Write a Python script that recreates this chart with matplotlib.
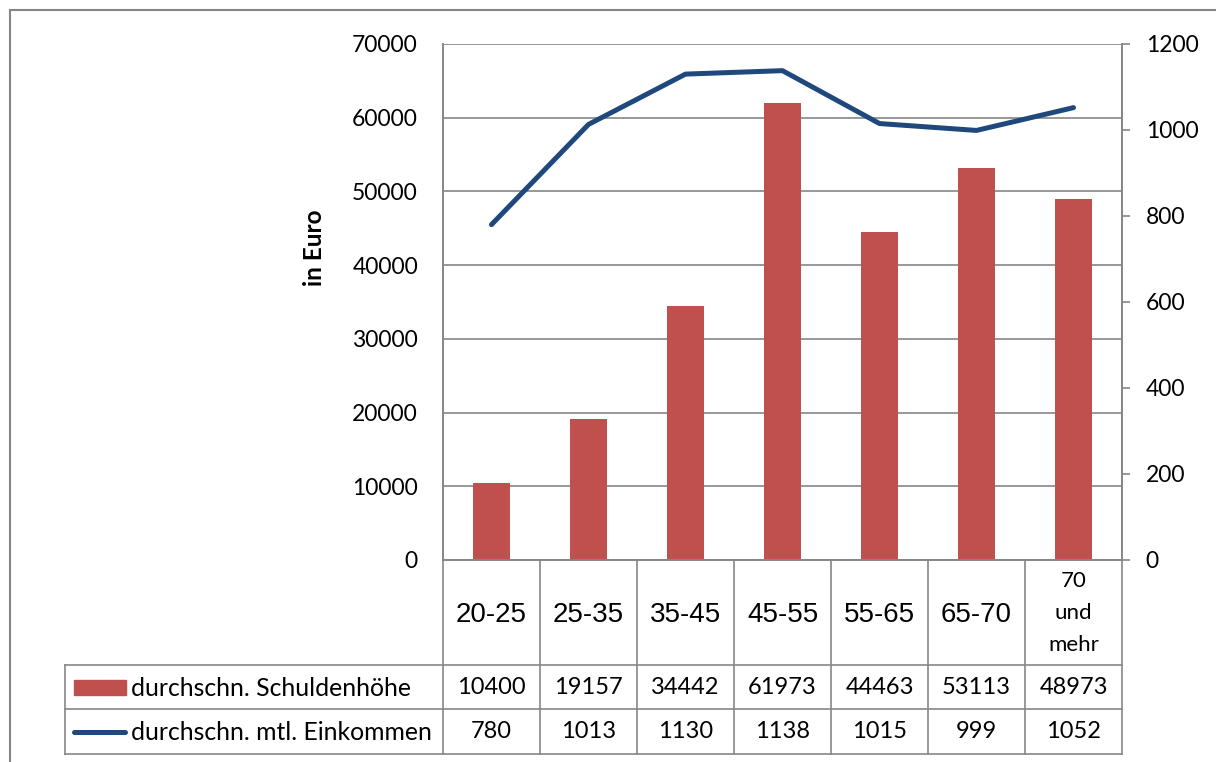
import matplotlib
matplotlib.use("Agg")
import matplotlib.pyplot as plt
import matplotlib.transforms as mtransforms
from matplotlib.lines import Line2D
from matplotlib.patches import Rectangle

# Altersgruppen und Werte
kategorien = ["20-25", "25-35", "35-45", "45-55", "55-65", "65-70", "70\nund\nmehr"]
schulden = [10400, 19157, 34442, 61973, 44463, 53113, 48973]
einkommen = [780, 1013, 1130, 1138, 1015, 999, 1052]
reihen = ["durchschn. Schuldenhöhe", "durchschn. mtl. Einkommen"]
links_ticks = [0, 10000, 20000, 30000, 40000, 50000, 60000, 70000]
rechts_ticks = [0, 200, 400, 600, 800, 1000, 1200]

ROT = "#C0504D"
BLAU = "#1F497D"
GRAU = "#868686"
FONT = "Lato"

W, H = 1216, 762
fig = plt.figure(figsize=(W / 100, H / 100), dpi=100)


def fx(px):
    return px / W


def fy(py):
    return 1 - py / H


ax = fig.add_axes([fx(443), fy(560), fx(1122) - fx(443), fy(44) - fy(560)])
x = list(range(len(kategorien)))

ax.bar(x, schulden, width=0.39, color=ROT, zorder=2)
ax.set_xlim(-0.5, len(kategorien) - 0.5)
ax.set_ylim(0, 70000)
ax.set_yticks(links_ticks)
ax.set_yticklabels([str(v) for v in links_ticks], fontfamily=FONT, fontsize=16.5)
ax.tick_params(axis="y", length=0, pad=18)
ax.set_xticks([])
ax.grid(axis="y", color=GRAU, linewidth=1.2, zorder=0)
ax.set_axisbelow(True)
for s in ax.spines.values():
    s.set_color(GRAU)
    s.set_linewidth(1.2)
ax.spines["top"].set_visible(False)

ax2 = ax.twinx()
ax2.plot(x, einkommen, color=BLAU, linewidth=3.6, solid_capstyle="round",
         solid_joinstyle="round", zorder=3)
ax2.set_ylim(0, 1200)
ax2.set_yticks(rechts_ticks)
ax2.set_yticklabels([str(v) for v in rechts_ticks], fontfamily=FONT, fontsize=16.5)
ax2.tick_params(axis="y", length=6, width=1.2, color=GRAU, pad=11)
for s in ax2.spines.values():
    s.set_color(GRAU)
    s.set_linewidth(1.2)
ax2.spines["top"].set_visible(False)

fig.text(fx(314), fy(248), "in Euro", rotation=90, ha="center", va="center",
         fontfamily=FONT, fontweight="bold", fontsize=17.5)

# Datentabelle unter dem Diagramm
tr = mtransforms.blended_transform_factory(ax.transData, fig.transFigure)
lw = 1.2
for i in range(len(kategorien) + 1):
    fig.add_artist(Line2D([i - 0.5, i - 0.5], [fy(560), fy(754)], transform=tr,
                          color=GRAU, linewidth=lw))
for yy in (665, 709, 754):
    fig.add_artist(Line2D([fx(65), fx(1122)], [fy(yy), fy(yy)], color=GRAU, linewidth=lw))
fig.add_artist(Line2D([fx(65), fx(65)], [fy(665), fy(754)], color=GRAU, linewidth=lw))

for i, k in enumerate(kategorien):
    if "\n" in k:
        fig.text(i, fy(613), k, transform=tr, ha="center", va="center",
                 fontfamily=FONT, fontsize=16, linespacing=1.75)
    else:
        fig.text(i, fy(615), k, transform=tr, ha="center", va="center",
                 fontfamily="Liberation Sans", fontsize=20)

for i, (s, e) in enumerate(zip(schulden, einkommen)):
    fig.text(i, fy(688), str(s), transform=tr, ha="center", va="center",
             fontfamily=FONT, fontsize=17)
    fig.text(i, fy(732), str(e), transform=tr, ha="center", va="center",
             fontfamily=FONT, fontsize=17)

fig.add_artist(Rectangle((fx(74), fy(695)), fx(126) - fx(74), fy(680) - fy(695),
                         color=ROT, transform=fig.transFigure))
fig.add_artist(Line2D([fx(74), fx(125)], [fy(732), fy(732)], color=BLAU,
                      linewidth=3.6, solid_capstyle="round"))
fig.text(fx(131), fy(688), reihen[0], ha="left", va="center", fontfamily=FONT, fontsize=17.8)
fig.text(fx(131), fy(732), reihen[1], ha="left", va="center", fontfamily=FONT, fontsize=17.8)

# Rahmen um die Grafik
fig.add_artist(Line2D([fx(10), fx(10)], [fy(10), 0], color=GRAU, linewidth=1.5))
fig.add_artist(Line2D([fx(10), 1], [fy(10), fy(10)], color=GRAU, linewidth=1.5))

fig.savefig("out.png", dpi=100)
